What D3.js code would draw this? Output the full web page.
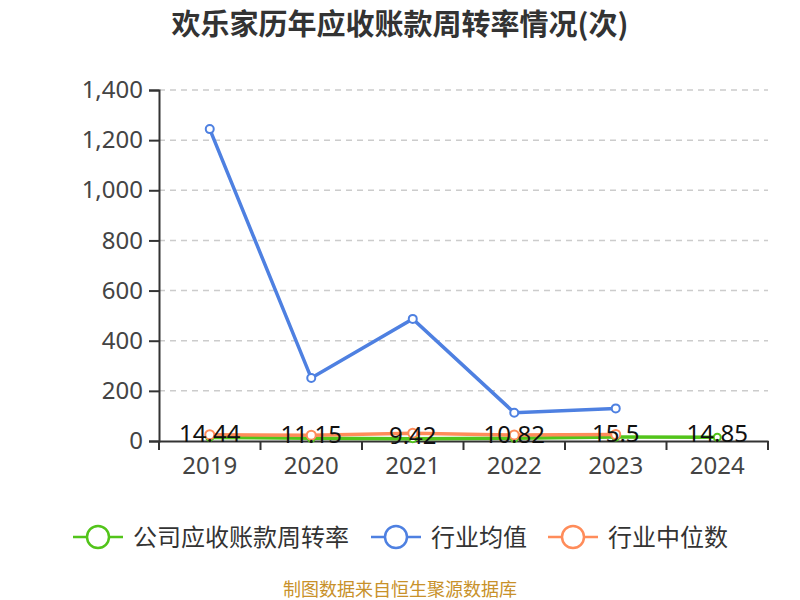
<!DOCTYPE html>
<html>
<head>
<meta charset="utf-8">
<script src="https://cdn.jsdelivr.net/npm/d3@7"></script>
<style>
  body { margin: 0; background: #fff; }
  svg { font-family: "Microsoft YaHei", "Noto Sans CJK SC", sans-serif; }
</style>
</head>
<body>
<div id="chart"></div>
<script>
const years = ["2019", "2020", "2021", "2022", "2023", "2024"]
const company = [14.44, 11.15, 9.42, 10.82, 15.5, 14.85]
const industryAvg = [1244, 251, 487, 113, 130, null]
const industryMid = [25, 23, 31, 24, 26, null]
const yTicks = [0, 200, 400, 600, 800, 1000, 1200, 1400]

const seriesNames = ["公司应收账款周转率", "行业均值", "行业中位数"]
const colors = ["#52c41a", "#4e80e1", "#ff8c5a"]

const width = 800, height = 600
const plotLeft = 159, plotRight = 768, plotTop = 90, plotBottom = 441

const svg = d3.select("#chart").append("svg")
    .attr("width", width)
    .attr("height", height)

svg.append("text")
    .attr("x", 400).attr("y", 35)
    .attr("text-anchor", "middle")
    .attr("font-size", 29).attr("font-weight", "bold")
    .attr("fill", "#333")
    .text("欢乐家历年应收账款周转率情况(次)")

let x = d3.scaleBand().domain(years).range([plotLeft, plotRight])
let y = d3.scaleLinear().domain([0, 1400]).range([plotBottom, plotTop])
const cx = d => x(d) + x.bandwidth() / 2

// grid
svg.append("g").selectAll("line")
    .data(yTicks.filter(t => t > 0))
    .join("line")
    .attr("x1", plotLeft).attr("x2", plotRight)
    .attr("y1", d => y(d)).attr("y2", d => y(d))
    .attr("stroke", "#ccc").attr("stroke-width", 1.5)
    .attr("stroke-dasharray", "6,5")

// y axis
let yAxis = svg.append("g")
    .attr("transform", `translate(${plotLeft},0)`)
    .call(d3.axisLeft(y).tickValues(yTicks).tickSize(10).tickPadding(6).tickFormat(d3.format(",")))
yAxis.select(".domain").attr("stroke", "#333").attr("stroke-width", 2)
yAxis.selectAll(".tick line").attr("stroke", "#333").attr("stroke-width", 2)
yAxis.selectAll("text").attr("font-size", 24).attr("fill", "#444")
    .attr("font-family", "Microsoft YaHei, Noto Sans, sans-serif")

// x axis
let xAxis = svg.append("g")
    .attr("transform", `translate(0,${plotBottom})`)
    .call(d3.axisBottom(x).tickSize(0).tickPadding(16))
xAxis.select(".domain").attr("stroke", "#333").attr("stroke-width", 2)
xAxis.selectAll("text").attr("font-size", 24).attr("fill", "#444")
    .attr("dy", "0.71em")
    .attr("font-family", "Microsoft YaHei, Noto Sans, sans-serif")
xAxis.selectAll(".sep")
    .data(d3.range(years.length + 1))
    .join("line")
    .attr("x1", i => plotLeft + i * x.bandwidth()).attr("x2", i => plotLeft + i * x.bandwidth())
    .attr("y1", 0).attr("y2", 9)
    .attr("stroke", "#333").attr("stroke-width", 2)

function drawSeries(vals, color, r) {
    let pts = years.map((yr, i) => [yr, vals[i]]).filter(p => p[1] != null)
    let line = d3.line().x(p => cx(p[0])).y(p => y(p[1]))
    svg.append("path")
        .datum(pts)
        .attr("d", line)
        .attr("fill", "none")
        .attr("stroke", color)
        .attr("stroke-width", 3.5)
    svg.append("g").selectAll("circle")
        .data(pts)
        .join("circle")
        .attr("cx", p => cx(p[0])).attr("cy", p => y(p[1]))
        .attr("r", r)
        .attr("fill", "#fff")
        .attr("stroke", color)
        .attr("stroke-width", 2)
}

drawSeries(industryAvg, colors[1], 4)
drawSeries(company, colors[0], 3.5)
drawSeries(industryMid, colors[2], 4.5)

// value labels
svg.append("g").selectAll("text")
    .data(company)
    .join("text")
    .attr("x", (d, i) => cx(years[i]))
    .attr("y", d => y(d) + 5)
    .attr("text-anchor", "middle")
    .attr("font-size", 24)
    .attr("fill", "#111")
    .attr("font-family", "Microsoft YaHei, Noto Sans, sans-serif")
    .text(d => d)

// legend
const legendX = [73, 371, 548]
let legend = svg.append("g").selectAll("g")
    .data(seriesNames)
    .join("g")
    .attr("transform", (d, i) => `translate(${legendX[i]},537)`)
legend.append("line")
    .attr("x1", 0).attr("x2", 50).attr("y1", 0).attr("y2", 0)
    .attr("stroke", (d, i) => colors[i]).attr("stroke-width", 2.5)
legend.append("circle")
    .attr("cx", 25).attr("cy", 0).attr("r", 11)
    .attr("fill", "#fff")
    .attr("stroke", (d, i) => colors[i]).attr("stroke-width", 2.5)
legend.append("text")
    .attr("x", 60).attr("y", 9)
    .attr("font-size", 24)
    .attr("fill", "#333")
    .text(d => d)

svg.append("text")
    .attr("x", 400).attr("y", 596)
    .attr("text-anchor", "middle")
    .attr("font-size", 18)
    .attr("fill", "#c8912a")
    .text("制图数据来自恒生聚源数据库")
</script>
</body>
</html>
